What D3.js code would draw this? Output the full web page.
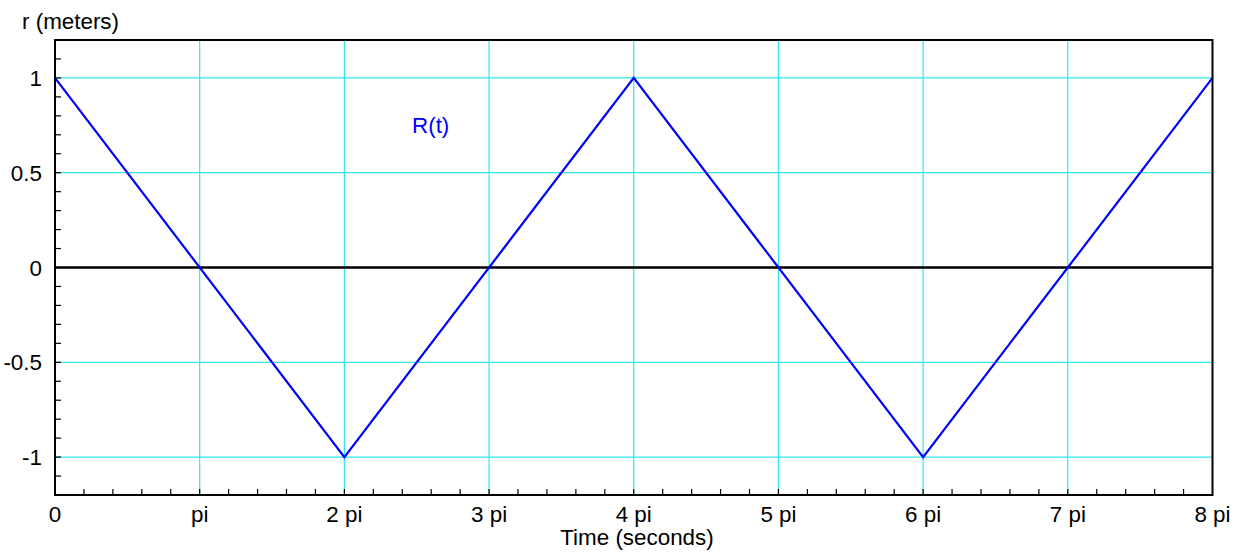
<!DOCTYPE html>
<html>
<head>
<meta charset="utf-8">
<script src="https://cdn.jsdelivr.net/npm/d3@7"></script>
<style>
    body { margin: 0; background: #fff; }
    text { font-family: "Liberation Sans", Arial, sans-serif; font-size: 22.4px; fill: #000; }
</style>
</head>
<body>
<svg id="chart" width="1239" height="553"></svg>
<script>
// time in multiples of pi, radius in meters
const tPi = [0, 2, 4, 6, 8];
const rValues = [1, -1, 1, -1, 1];

const xTickValues = [0, 1, 2, 3, 4, 5, 6, 7, 8];
const xTickLabels = ["0", "pi", "2 pi", "3 pi", "4 pi", "5 pi", "6 pi", "7 pi", "8 pi"];
const yTickValues = [-1, -0.5, 0, 0.5, 1];
const yTickLabels = ["-1", "-0.5", "0", "0.5", "1"];

const svg = d3.select("#chart");
const plotLeft = 55, plotRight = 1212.5, plotTop = 40, plotBottom = 495;

const x = d3.scaleLinear().domain([0, 8]).range([plotLeft, plotRight]);
const y = d3.scaleLinear().domain([-1.2, 1.2]).range([plotBottom, plotTop]);

// grid
const grid = svg.append("g").attr("stroke", "#2ee6f0").attr("stroke-width", 1.2);
grid.selectAll("line.v").data(xTickValues.slice(1, -1)).join("line")
    .attr("x1", d => x(d)).attr("x2", d => x(d)).attr("y1", plotTop).attr("y2", plotBottom);
grid.selectAll("line.h").data(yTickValues).join("line")
    .attr("x1", plotLeft).attr("x2", plotRight).attr("y1", d => y(d)).attr("y2", d => y(d));

// zero line
svg.append("line").attr("x1", plotLeft).attr("x2", plotRight)
    .attr("y1", y(0)).attr("y2", y(0)).attr("stroke", "#000").attr("stroke-width", 2.5);

// minor ticks (inward)
const xMinor = d3.range(0, 40).map(i => i / 5);
svg.append("g").attr("stroke", "#000").attr("stroke-width", 1.2)
    .selectAll("line").data(xMinor).join("line")
    .attr("x1", d => x(d)).attr("x2", d => x(d)).attr("y1", plotBottom).attr("y2", plotBottom - 6);
const yMinor = d3.range(-12, 13).map(i => i / 10);
svg.append("g").attr("stroke", "#000").attr("stroke-width", 1.2)
    .selectAll("line").data(yMinor).join("line")
    .attr("x1", plotLeft).attr("x2", plotLeft + 6).attr("y1", d => y(d)).attr("y2", d => y(d));

// series
const line = d3.line().x((d, i) => x(tPi[i])).y(d => y(d));
svg.append("path").datum(rValues).attr("d", line)
    .attr("fill", "none").attr("stroke", "#0000ff").attr("stroke-width", 2.2);

// frame
svg.append("rect").attr("x", plotLeft).attr("y", plotTop)
    .attr("width", plotRight - plotLeft).attr("height", plotBottom - plotTop)
    .attr("fill", "none").attr("stroke", "#000").attr("stroke-width", 2);

// tick labels
svg.append("g").selectAll("text").data(xTickValues).join("text")
    .attr("x", d => x(d)).attr("y", 522).attr("text-anchor", "middle")
    .text((d, i) => xTickLabels[i]);
svg.append("g").selectAll("text").data(yTickValues).join("text")
    .attr("x", 42).attr("y", d => y(d) + 8).attr("text-anchor", "end")
    .text((d, i) => yTickLabels[i]);

// titles
svg.append("text").attr("x", 22).attr("y", 29).text("r (meters)");
svg.append("text").attr("x", 637).attr("y", 545).attr("text-anchor", "middle").text("Time (seconds)");
svg.append("text").attr("x", 412).attr("y", 133).style("fill", "#0000ff").text("R(t)");
</script>
</body>
</html>
